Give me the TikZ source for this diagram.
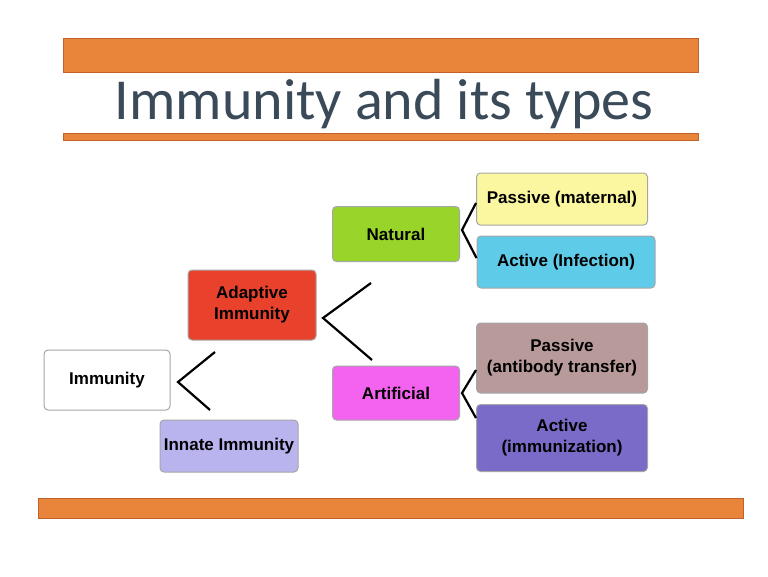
\documentclass[tikz,border=0pt]{standalone}
\usepackage{fontspec}
\setmainfont{Liberation Sans}
\newfontfamily\titlefont{Carlito}
\usepackage{xcolor}
\definecolor{barorange}{HTML}{E8853A}
\definecolor{barline}{HTML}{C0622A}
\definecolor{titlegray}{HTML}{3A4A58}
\definecolor{adaptred}{HTML}{E8412C}
\definecolor{innatelav}{HTML}{B9B3EE}
\definecolor{natgreen}{HTML}{99D42A}
\definecolor{artmag}{HTML}{F463F0}
\definecolor{passyellow}{HTML}{FAF7A0}
\definecolor{actsky}{HTML}{5ECCE8}
\definecolor{passrose}{HTML}{B89A9A}
\definecolor{actviolet}{HTML}{7B6BC8}
\begin{document}
\begin{tikzpicture}[x=1pt, y=-1pt, inner sep=2pt]
		\tikzset{kind/.style={draw=gray!70, rounded corners=4pt, line width=1pt, align=center, font=\fontsize{17}{21}\selectfont\bfseries},
			bar/.style={fill=barorange, draw=barline, line width=1pt},
			brace/.style={line width=2.2pt}}
			\useasboundingbox (0,0) rectangle (768,576);
			\fill[white] (0,0) rectangle (768,576);
			% bars and title
			\draw[bar] (63,38) rectangle (698,72);
			\draw[bar] (63,133) rectangle (698,140);
			\draw[bar] (38,498) rectangle (743,518);
			\node[text=titlegray, font=\titlefont\fontsize{58}{64}\selectfont] (title) at (384,104) {Immunity and its types};

			% boxes
			\node[kind, fill=white, minimum width=126pt, minimum height=60pt] (immunity) at (107,380) {Immunity};
			\node[kind, fill=adaptred, minimum width=128pt, minimum height=70pt] (adaptive) at (252,305) {Adaptive\\Immunity};
			\node[kind, fill=innatelav, minimum width=138pt, minimum height=52pt] (innate) at (229,446) {Innate Immunity};
			\node[kind, fill=natgreen, minimum width=127pt, minimum height=55pt] (natural) at (396,234) {Natural};
			\node[kind, fill=artmag, minimum width=127pt, minimum height=54pt] (artificial) at (396,393) {Artificial};
			\node[kind, fill=passyellow, minimum width=171pt, minimum height=52pt] (passmat) at (562,199) {Passive (maternal)};
			\node[kind, fill=actsky, minimum width=178pt, minimum height=52pt] (actinf) at (566,262) {Active (Infection)};
			\node[kind, fill=passrose, minimum width=171pt, minimum height=70pt] (passab) at (562,358) {Passive\\(antibody transfer)};
			\node[kind, fill=actviolet, minimum width=171pt, minimum height=67pt] (actimm) at (562,438) {Active\\(immunization)};

			% branching strokes
			\coordinate (immtip) at (178,382);
			\coordinate (adatip) at (323,318);
			\coordinate (nattip) at (462,230);
			\coordinate (arttip) at (462,393);
			\draw[brace] (215,352) -- (immtip) -- (210,410);
			\draw[brace] (371,283) -- (adatip) -- (372,360);
			\draw[brace] ([yshift=-4pt]passmat.west) -- (nattip) -- ([yshift=4pt]actinf.west);
			\draw[brace] (476,370) -- (arttip) -- (476,418);
		\end{tikzpicture}
\end{document}
